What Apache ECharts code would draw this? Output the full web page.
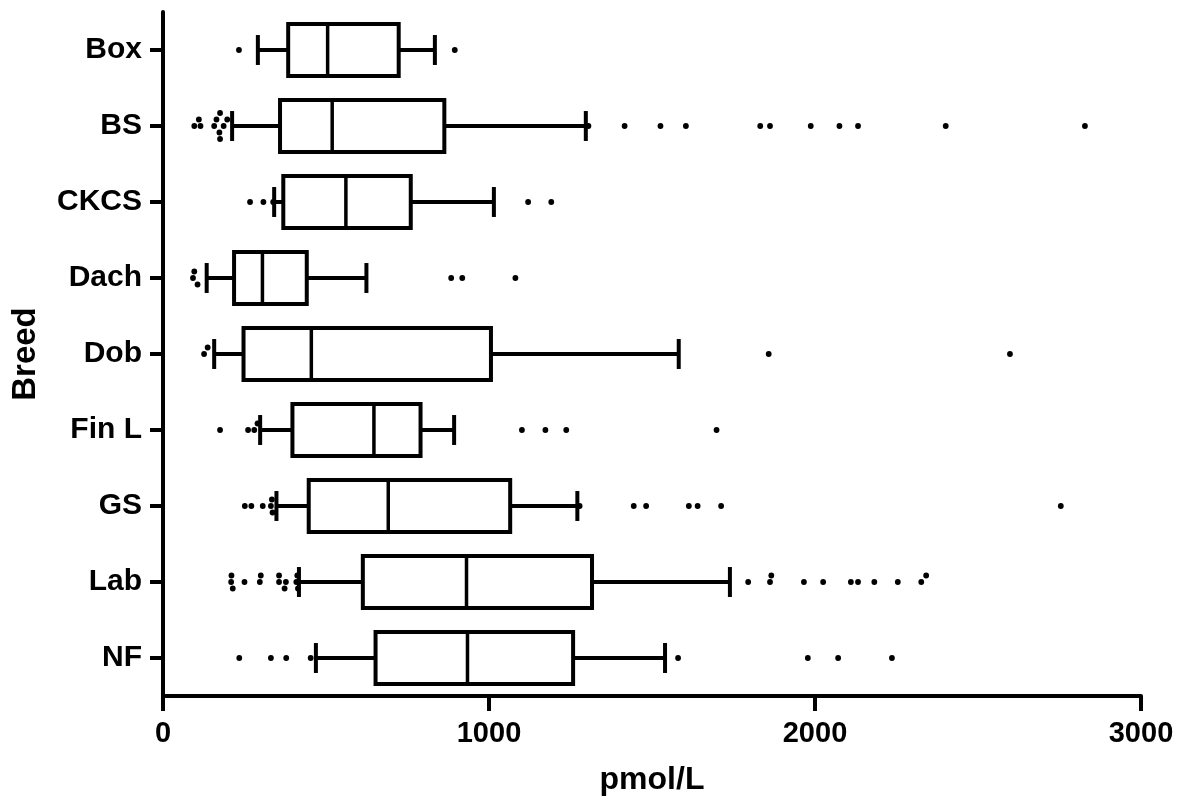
<!DOCTYPE html>
<html>
<head>
<meta charset="utf-8">
<script src="https://cdn.jsdelivr.net/npm/echarts@6/dist/echarts.min.js"></script>
<style>
html,body{margin:0;padding:0;background:#fff;}
#chart{width:1182px;height:799px;}
</style>
</head>
<body>
<div id="chart"></div>
<script>
// ---- data ----
const categories = ['Box', 'BS', 'CKCS', 'Dach', 'Dob', 'Fin L', 'GS', 'Lab', 'NF'];
const whiskerLow  = [291, 212, 341, 134, 157, 298, 348, 417, 469];
const quartile1   = [384, 359, 369, 218, 247, 397, 447, 613, 652];
const medians     = [505, 519, 561, 305, 455, 647, 691, 931, 934];
const quartile3   = [723, 863, 760, 441, 1006, 790, 1065, 1316, 1258];
const whiskerHigh = [834, 1297, 1015, 624, 1582, 893, 1271, 1739, 1540];

const outBox  = [233, 895];
const outBS   = [96, 110, 115, 157, 164, 173, 175, 175, 186, 197, 1305, 1416, 1526, 1604, 1832, 1862, 1987, 2075, 2132, 2401, 2828];
const outCKCS = [267, 308, 338, 1120, 1191];
const outDach = [92, 96, 106, 884, 918, 1081];
const outDob  = [126, 137, 1858, 2598];
const outFinL = [175, 261, 280, 290, 1101, 1173, 1237, 1698];
const outGS   = [251, 271, 306, 331, 334, 336, 1278, 1444, 1482, 1613, 1640, 1712, 2754];
const outLab  = [209, 210, 214, 250, 297, 300, 356, 356, 373, 377, 409, 412, 414, 1795, 1862, 1866, 1966, 2025, 2110, 2132, 2182, 2254, 2326, 2341];
const outNF   = [234, 331, 378, 453, 1580, 1978, 2071, 2236];
const outliers = [outBox, outBS, outCKCS, outDach, outDob, outFinL, outGS, outLab, outNF];

const xTicks = { min: 0, max: 3000, interval: 1000 };

// ---- build series data ----
const boxData = categories.map((c, i) => [i, whiskerLow[i], quartile1[i], medians[i], quartile3[i], whiskerHigh[i]]);
const outData = [];
outliers.forEach((arr, i) => arr.forEach(v => outData.push([v, i])));

const FONT = '"Liberation Sans", Arial, Helvetica, sans-serif';
const LW = 4;

function renderBox(params, api) {
  const c = api.value(0);
  const pLow = api.coord([api.value(1), c]);
  const pQ1 = api.coord([api.value(2), c]);
  const pMed = api.coord([api.value(3), c]);
  const pQ3 = api.coord([api.value(4), c]);
  const pHigh = api.coord([api.value(5), c]);
  const band = api.size([0, 1])[1];
  const hb = band * 0.341;
  const hc = band * 0.197;
  const y = pMed[1];
  const st = { stroke: '#000', lineWidth: LW, fill: null };
  return {
    type: 'group',
    children: [
      { type: 'line', shape: { x1: pLow[0], y1: y, x2: pQ1[0], y2: y }, style: st },
      { type: 'line', shape: { x1: pQ3[0], y1: y, x2: pHigh[0], y2: y }, style: st },
      { type: 'line', shape: { x1: pLow[0], y1: y - hc, x2: pLow[0], y2: y + hc }, style: st },
      { type: 'line', shape: { x1: pHigh[0], y1: y - hc, x2: pHigh[0], y2: y + hc }, style: st },
      { type: 'rect', shape: { x: pQ1[0], y: y - hb, width: pQ3[0] - pQ1[0], height: 2 * hb }, style: { stroke: '#000', lineWidth: LW, fill: '#fff' } },
      { type: 'line', shape: { x1: pMed[0], y1: y - hb, x2: pMed[0], y2: y + hb }, style: { stroke: '#000', lineWidth: 3.5 } }
    ]
  };
}

let placed = {};
function renderOut(params, api) {
  if (params.dataIndex === 0) placed = {};
  const c = api.value(1);
  const p = api.coord([api.value(0), c]);
  const list = placed[c] || (placed[c] = []);
  const minD = 6, step = 6.5;
  const offs = [0, -step, step, -2 * step, 2 * step, -3 * step, 3 * step];
  let oy = 0;
  for (const o of offs) {
    const ok = list.every(q => Math.hypot(q[0] - p[0], q[1] - o) >= minD);
    if (ok) { oy = o; break; }
  }
  list.push([p[0], oy]);
  return { type: 'circle', shape: { cx: p[0], cy: p[1] + oy, r: 2.9 }, style: { fill: '#000' } };
}

const chart = echarts.init(document.getElementById('chart'), null, { renderer: 'canvas' });
chart.setOption({
  backgroundColor: '#fff',
  animation: false,
  grid: { left: 163, right: 41, top: 12, bottom: 103, containLabel: false, outerBoundsMode: 'none' },
  xAxis: {
    type: 'value',
    min: xTicks.min, max: xTicks.max, interval: xTicks.interval,
    name: 'pmol/L', nameLocation: 'middle', nameGap: 68,
    nameTextStyle: { fontFamily: FONT, fontWeight: 'bold', fontSize: 32, color: '#000' },
    axisLine: { show: true, lineStyle: { color: '#000', width: LW } },
    axisTick: { show: true, length: 15, lineStyle: { color: '#000', width: LW } },
    axisLabel: { margin: 23, fontFamily: FONT, fontWeight: 'bold', fontSize: 29, color: '#000',
                 formatter: v => String(v) },
    splitLine: { show: false }
  },
  yAxis: {
    type: 'category',
    data: categories,
    inverse: true,
    name: 'Breed', nameLocation: 'middle', nameGap: 121,
    nameTextStyle: { fontFamily: FONT, fontWeight: 'bold', fontSize: 33, color: '#000' },
    axisLine: { show: true, lineStyle: { color: '#000', width: LW } },
    axisTick: { show: true, alignWithLabel: true, length: 13, lineStyle: { color: '#000', width: LW } },
    axisLabel: { margin: 21, fontFamily: FONT, fontWeight: 'bold', fontSize: 30, color: '#000' },
    splitLine: { show: false }
  },
  series: [
    {
      type: 'custom', name: 'box', renderItem: renderBox, data: boxData,
      encode: { x: [1, 2, 3, 4, 5], y: 0 }, clip: false, z: 2
    },
    {
      type: 'custom', name: 'outliers', renderItem: renderOut, data: outData,
      encode: { x: 0, y: 1 }, clip: false, z: 3
    }
  ]
});
</script>
</body>
</html>
